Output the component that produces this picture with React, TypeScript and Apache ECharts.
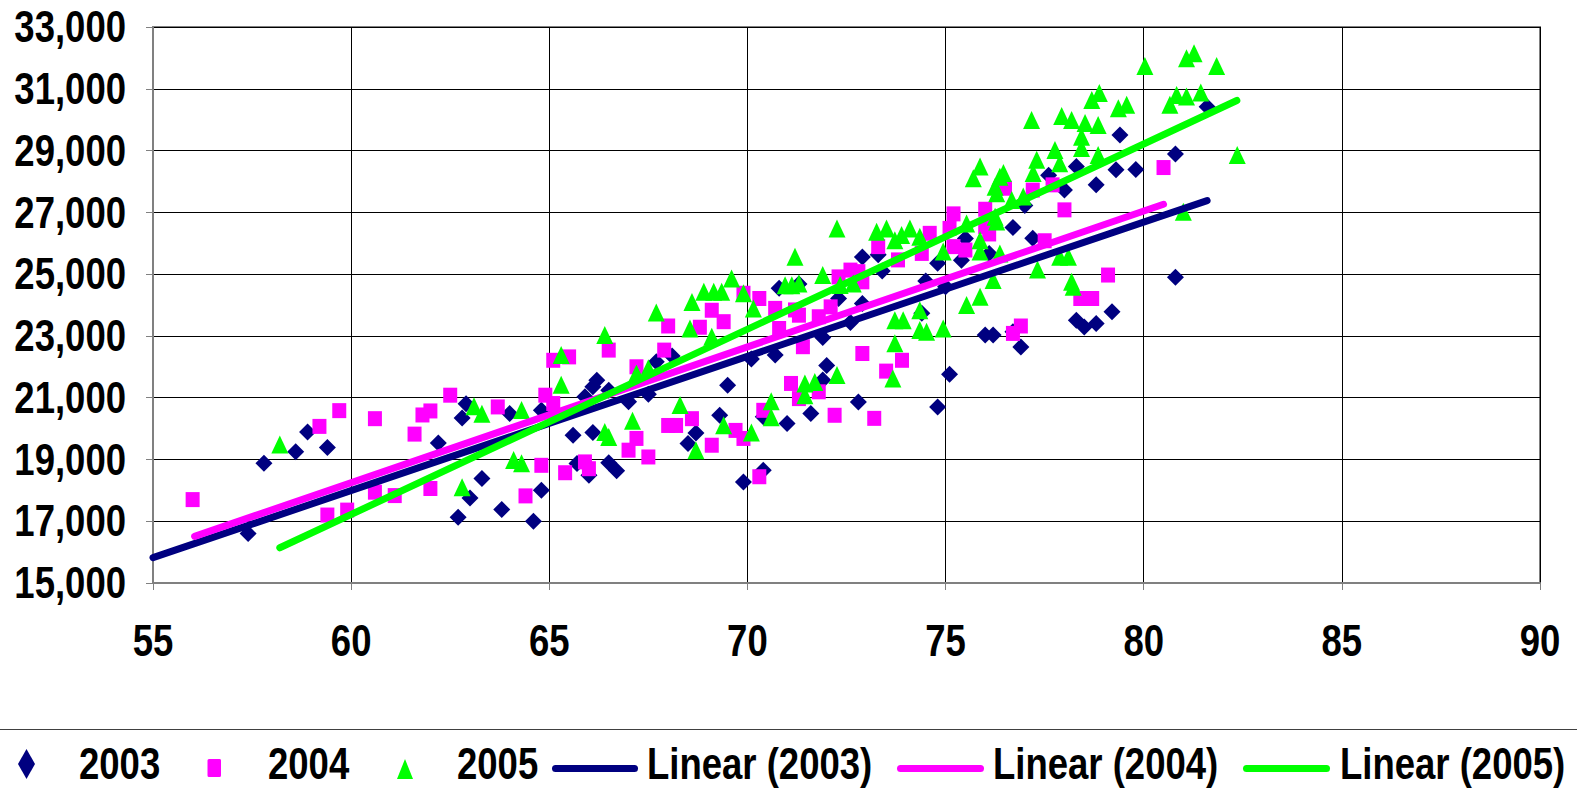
import React, { useEffect, useRef } from "react";
import * as echarts from "echarts";

const FONT = "'Liberation Sans', Arial, sans-serif";
const FONT_SIZE = 44;
const SCALE_X = 0.83;

const X_MIN = 55;
const X_MAX = 90;
const X_STEP = 5;
const Y_MIN = 15000;
const Y_MAX = 33000;
const Y_STEP = 2000;

const X_TICKS = [55, 60, 65, 70, 75, 80, 85, 90];
const Y_TICKS = [15000, 17000, 19000, 21000, 23000, 25000, 27000, 29000, 31000, 33000];

const SERIES_NAMES = ["2003", "2004", "2005"];
const TREND_NAMES = ["Linear (2003)", "Linear (2004)", "Linear (2005)"];
const COLORS = ["#000080", "#FF00FF", "#00FF00"];

const pts2003: [number, number][] = [
  [57.4, 16600], [57.8, 18880], [58.6, 19250], [58.9, 19890], [59.4, 19390],
  [62.2, 19530], [62.7, 17130], [63.0, 17750], [62.8, 20340], [62.9, 20800],
  [63.3, 18380], [63.8, 17380], [64.0, 20490], [64.6, 17000], [64.8, 18000],
  [64.8, 20590], [65.6, 19780], [66.1, 19870], [65.7, 18870], [66.0, 18490],
  [66.5, 18890], [66.7, 18630], [65.9, 21030], [66.1, 21350], [66.2, 21560],
  [66.5, 21240], [67.0, 20870], [67.5, 21110], [67.7, 22160], [68.1, 22350],
  [68.5, 19520], [68.7, 19860], [69.5, 21400], [69.3, 20430], [69.9, 18270],
  [70.4, 18650], [70.1, 22250], [70.7, 22380], [70.8, 24540], [71.3, 24680],
  [70.4, 20380], [71.0, 20160], [71.6, 20490], [72.0, 22040], [71.9, 21570],
  [72.8, 20860], [71.9, 22950], [72.6, 23430], [72.3, 24210], [72.9, 24050],
  [72.9, 25550], [73.3, 25630], [73.4, 25100], [74.4, 23730], [74.5, 24780],
  [74.8, 25350], [75.0, 24590], [74.8, 20700], [75.1, 21760], [76.0, 23030],
  [76.2, 23030], [76.9, 22640], [76.7, 23130], [75.4, 25450], [75.5, 26150],
  [76.1, 25670], [76.7, 26510], [77.2, 26160], [77.0, 27220], [77.6, 28200],
  [78.0, 27720], [78.3, 28480], [78.8, 27890], [79.3, 28380], [79.8, 28390],
  [79.4, 29500], [80.8, 28890], [81.6, 30420], [80.8, 24900], [78.3, 23510],
  [78.5, 23290], [78.8, 23400], [79.2, 23780],
];

const pts2004: [number, number][] = [
  [56.0, 17700], [59.2, 20070], [59.7, 20580], [59.4, 17200], [59.9, 17360],
  [60.6, 20320], [60.6, 17940], [61.1, 17830], [61.6, 19820], [61.8, 20440],
  [62.0, 20570], [62.0, 18060], [62.5, 21080], [63.7, 20700], [64.4, 17820],
  [64.8, 18810], [64.9, 21080], [65.1, 20810], [65.1, 22210], [65.5, 22320],
  [65.4, 18570], [65.9, 18920], [66.0, 18700], [66.5, 22540], [67.0, 19300],
  [67.2, 19680], [67.5, 19080], [67.2, 22000], [67.9, 22540], [68.0, 20100],
  [68.2, 20100], [68.0, 23320], [68.6, 20320], [69.1, 19460], [68.8, 23280],
  [69.1, 23830], [69.4, 23460], [69.7, 19940], [69.9, 19680], [70.3, 18440],
  [70.4, 20590], [71.1, 21460], [71.3, 20970], [71.8, 21190], [72.2, 20430],
  [72.9, 22430], [73.2, 20330], [73.5, 21860], [73.9, 22210], [71.4, 22650],
  [69.9, 24380], [70.3, 24210], [70.7, 23890], [70.8, 23240], [71.2, 23840],
  [71.3, 23670], [71.8, 23620], [72.1, 23940], [72.3, 24910], [72.6, 25130],
  [72.8, 25080], [72.9, 24750], [73.3, 25890], [73.8, 25460], [74.4, 25670],
  [74.6, 26320], [75.2, 25890], [75.5, 25780], [75.2, 26950], [75.1, 26480],
  [76.0, 27100], [76.0, 26540], [76.1, 26300], [76.5, 27780], [77.2, 27720],
  [77.7, 27890], [78.0, 27080], [77.5, 26080], [79.1, 24970], [78.4, 24210],
  [78.7, 24210], [76.9, 23320], [76.7, 23080], [80.5, 28450],
];

const pts2005: [number, number][] = [
  [58.2, 19480], [62.8, 18100], [63.1, 20720], [63.3, 20480], [64.3, 20600],
  [64.1, 18980], [64.3, 18880], [65.3, 21420], [65.3, 22380], [66.4, 23030],
  [66.4, 19890], [66.5, 19730], [67.1, 20250], [67.2, 21780], [67.5, 21950],
  [67.7, 23760], [68.3, 20760], [68.6, 24100], [68.7, 19300], [68.9, 24430],
  [69.15, 24430], [69.35, 24430], [68.55, 23240], [69.1, 22970], [69.4, 20110],
  [69.6, 24860], [69.9, 24380], [70.15, 23890], [70.6, 20880], [70.6, 20370],
  [70.1, 19870], [70.95, 24640], [71.12, 24640], [71.3, 24700], [71.2, 25560],
  [71.45, 21460], [71.7, 21510], [71.45, 21080], [72.26, 21730], [72.26, 26480],
  [71.9, 24970], [72.34, 24650], [72.67, 24700], [73.26, 26370], [73.51, 26480],
  [73.72, 26100], [73.89, 26270], [74.1, 26480], [74.35, 26210], [74.94, 25730],
  [75.53, 26640], [75.87, 26100], [75.87, 25730], [75.53, 24000], [75.87, 24270],
  [73.72, 23510], [73.93, 23510], [73.72, 22760], [74.35, 23830], [74.35, 23190],
  [74.52, 23130], [74.94, 23240], [73.67, 21620], [76.37, 25670], [77.32, 25150],
  [76.2, 24810], [75.7, 28100], [75.87, 28480], [76.37, 28150], [76.29, 27620],
  [76.67, 27400], [76.29, 26700], [76.96, 27510], [80.03, 31740], [81.08, 31990],
  [81.27, 32150], [81.84, 31740], [80.83, 30800], [81.08, 30750], [81.44, 30880],
  [80.66, 30480], [79.36, 30370], [79.57, 30480], [82.36, 28860], [81.0, 27020],
  [78.69, 30640], [78.88, 30860], [77.93, 30120], [78.18, 29990], [78.52, 29890],
  [78.85, 29830], [78.43, 29450], [78.43, 29080], [78.85, 28860], [77.17, 29990],
  [77.76, 29020], [77.3, 28700], [77.88, 28590], [77.21, 28270], [76.46, 28270],
  [76.25, 27830], [76.25, 26860], [77.88, 25560], [78.1, 25560], [78.18, 24750],
  [78.22, 24590],
];

const trend2003: [number, number][] = [[55, 15820], [81.6, 27380]];
const trend2004: [number, number][] = [[56.05, 16510], [80.5, 27260]];
const trend2005: [number, number][] = [[58.2, 16140], [82.35, 30620]];

function textEl(text: string, x: number, y: number, align: string) {
  return {
    type: "text",
    x,
    y,
    scaleX: SCALE_X,
    silent: true,
    z: 10,
    style: {
      text,
      fill: "#000",
      fontFamily: FONT,
      fontWeight: "bold",
      fontSize: FONT_SIZE,
      align,
      verticalAlign: "middle",
    },
  };
}

export default function App() {
  const ref = useRef<HTMLDivElement>(null);

  useEffect(() => {
    if (!ref.current) return;
    const chart = echarts.init(ref.current, undefined, { renderer: "svg" });
    const scatterSymbols = ["diamond", "rect", "triangle"];
    const scatterSizes = [[17, 17], [14, 15], [17, 18]];
    const scatterData = [pts2003, pts2004, pts2005];
    const trendData = [trend2003, trend2004, trend2005];

    const series: any[] = [];
    SERIES_NAMES.forEach((name, i) => {
      series.push({
        name,
        type: "scatter",
        data: scatterData[i],
        symbol: scatterSymbols[i],
        symbolSize: scatterSizes[i],
        itemStyle: { color: COLORS[i], opacity: 1 },
        emphasis: { disabled: true },
        silent: true,
        z: 2,
      });
    });
    TREND_NAMES.forEach((name, i) => {
      series.push({
        name,
        type: "line",
        data: trendData[i],
        symbol: "none",
        showSymbol: false,
        lineStyle: { color: COLORS[i], width: 7, cap: "round" },
        itemStyle: { color: COLORS[i] },
        emphasis: { disabled: true },
        silent: true,
        z: 3,
      });
    });

    chart.setOption({
      animation: false,
      backgroundColor: "#fff",
      grid: {
        left: 153,
        right: 37,
        top: 27,
        bottom: 206,
        show: true,
        borderColor: "#808080",
        borderWidth: 2,
        backgroundColor: "transparent",
        containLabel: false,
        outerBoundsMode: "none",
      },
      xAxis: {
        type: "value",
        min: X_MIN,
        max: X_MAX,
        interval: X_STEP,
        axisLine: { show: true, lineStyle: { color: "#808080", width: 2 } },
        axisTick: { show: true, length: 7, inside: false, lineStyle: { color: "#808080", width: 1 } },
        splitLine: { show: true, lineStyle: { color: "#000", width: 1 } },
        axisLabel: { show: false },
      },
      yAxis: {
        type: "value",
        min: Y_MIN,
        max: Y_MAX,
        interval: Y_STEP,
        axisLine: { show: true, lineStyle: { color: "#808080", width: 2 } },
        axisTick: { show: true, length: 7, inside: false, lineStyle: { color: "#808080", width: 1 } },
        splitLine: { show: true, lineStyle: { color: "#000", width: 1 } },
        axisLabel: { show: false },
      },
      series,
    });

    const graphics: any[] = [];
    X_TICKS.forEach((v) => {
      const p = chart.convertToPixel({ gridIndex: 0 }, [v, Y_MIN]) as number[];
      graphics.push(textEl(String(v), p[0], 641, "center"));
    });
    Y_TICKS.forEach((v) => {
      const p = chart.convertToPixel({ gridIndex: 0 }, [X_MIN, v]) as number[];
      graphics.push(textEl(v.toLocaleString("en-US"), 126, p[1], "right"));
    });

    // legend
    const LY = 764;
    graphics.push({
      type: "line",
      shape: { x1: 0, y1: 729.5, x2: 1577, y2: 729.5 },
      style: { stroke: "#404040", lineWidth: 1 },
      silent: true,
    });
    graphics.push({
      type: "polygon",
      shape: { points: [[26.5, 749], [35, 764], [26.5, 779], [18, 764]] },
      style: { fill: COLORS[0] },
      silent: true,
    });
    graphics.push(textEl(SERIES_NAMES[0], 79, LY, "left"));
    graphics.push({
      type: "rect",
      shape: { x: 207.5, y: 759, width: 13.5, height: 18, r: 1.5 },
      style: { fill: COLORS[1] },
      silent: true,
    });
    graphics.push(textEl(SERIES_NAMES[1], 268, LY, "left"));
    graphics.push({
      type: "polygon",
      shape: { points: [[405, 759], [413, 779], [397, 779]] },
      style: { fill: COLORS[2] },
      silent: true,
    });
    graphics.push(textEl(SERIES_NAMES[2], 457, LY, "left"));
    const lineKeys = [
      [555.5, 634.5, 647],
      [900.5, 980.5, 993],
      [1246.5, 1326.5, 1340],
    ];
    lineKeys.forEach((k, i) => {
      graphics.push({
        type: "line",
        shape: { x1: k[0], y1: 768.5, x2: k[1], y2: 768.5 },
        style: { stroke: COLORS[i], lineWidth: 7, lineCap: "round" },
        silent: true,
      });
      graphics.push(textEl(TREND_NAMES[i], k[2], LY, "left"));
    });

    chart.setOption({ graphic: graphics });

    return () => {
      chart.dispose();
    };
  }, []);

  return (
    <div
      ref={ref}
      style={{ position: "absolute", left: 0, top: 0, width: 1577, height: 789 }}
    />
  );
}
